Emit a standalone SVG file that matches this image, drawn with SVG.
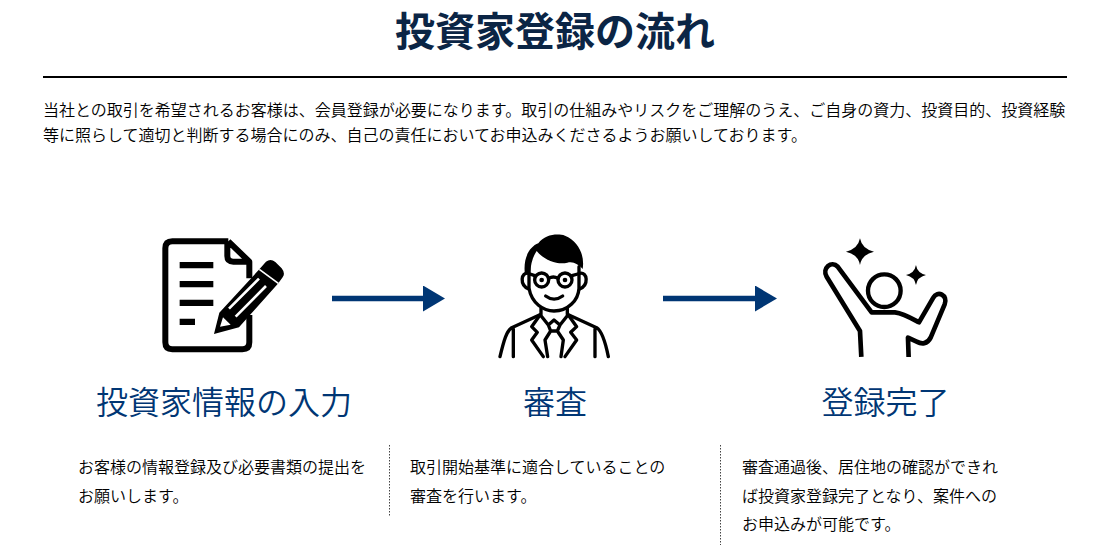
<svg xmlns="http://www.w3.org/2000/svg" width="1095" height="558" viewBox="0 0 1095 558">
<style>
text{font-family:"Noto Sans CJK JP","Noto Sans",sans-serif}
.title{font-size:40px;font-weight:700;fill:#0b2545;text-anchor:middle}
.body{font-size:16px;font-weight:350;fill:#000}
.head{font-size:32px;font-weight:350;fill:#003674;text-anchor:middle}
.desc{font-size:16px;font-weight:350;fill:#000}
.ic{fill:none;stroke:#000;stroke-linejoin:round}
.sep{stroke:#444;stroke-width:1;stroke-dasharray:1.5 1.5}
.conn{stroke:#003674;stroke-width:5.5;fill:none;marker-end:url(#ah)}
</style>
<defs>
<marker id="ah" markerUnits="userSpaceOnUse" markerWidth="22" markerHeight="26" refX="0" refY="13" orient="auto"><path d="M0 0L22 13L0 26Z" fill="#003674"/></marker>
</defs>
<rect width="1095" height="558" fill="#fff"/>
<text class="title" x="555" y="46">投資家登録の流れ</text>
<rect x="43" y="76" width="1024" height="2" fill="#000"/>
<text class="body" x="43" y="116">当社との取引を希望されるお客様は、会員登録が必要になります。取引の仕組みやリスクをご理解のうえ、ご自身の資力、投資目的、投資経験</text>
<text class="body" x="43" y="141">等に照らして適切と判断する場合にのみ、自己の責任においてお申込みくださるようお願いしております。</text>

<g id="node-input">
<g transform="translate(140 220) scale(.3333)">
<path class="ic" stroke-width="18" d="M265 64H97Q76 64 76 85V367Q76 388 97 388H307Q328 388 328 367V285M328 175V125L265 64M262 64V108Q262 125 280 125H328"/>
<path d="M119 126H220V145H119ZM119 183H220V202H119ZM119 239H220V258H119ZM119 296H165V315H119Z"/>
<path d="M222 342L238 278L358 148L378 125Q392 115 406 126L425 145Q437 160 428 172L415 190L297 322Z"/>
<path d="M358 148L415 190" stroke="#fff" stroke-width="5"/>
<path d="M267 266L357 176M287 290L378 198" stroke="#fff" stroke-width="8"/>
<path d="M240 320L249 292L272 314Z" fill="#fff"/>
</g>
<text class="head" x="224" y="414">投資家情報の入力</text>
<text class="desc" x="78" y="473">お客様の情報登録及び必要書類の提出を</text>
<text class="desc" x="78" y="502">お願いします。</text>
</g>

<g id="node-review">
<g transform="translate(480 225) scale(.3333)">
<path d="M135 150C128 100 148 65 175 55C195 28 232 25 255 32C295 48 315 90 308 132C295 118 280 108 262 113C235 120 195 108 170 78C158 95 152 120 150 145Z"/>
<g class="ic" stroke-width="10" stroke-linecap="round">
<path d="M147 115V190C155 235 190 258 222 258C265 258 295 225 297 190V125"/>
<path d="M146 145C122 140 118 180 146 192M299 145C323 140 327 180 299 192"/>
<circle cx="185" cy="165" r="21"/><circle cx="255" cy="165" r="21"/>
<path d="M206 160Q220 152 234 160M164 152L150 147M276 152L293 147"/>
<path d="M197 213Q222 232 248 213"/>
<path d="M183 250V268L95 308C80 318 72 345 60 395M262 250V268L350 308C365 318 375 345 385 395M100 312V395M345 312V395"/>
<path d="M180 270L155 305L172 322L155 345L190 395M265 270L290 305L272 322L290 345L255 395"/>
<path d="M183 272L205 300L222 285L240 300L262 272M205 300L212 318L195 345L203 395M240 300L232 318L250 345L243 395M212 318H232"/>
</g>
<circle cx="185" cy="165" r="7"/><circle cx="255" cy="165" r="7"/>
</g>
<text class="head" x="555" y="414">審査</text>
<text class="desc" x="410" y="473">取引開始基準に適合していることの</text>
<text class="desc" x="410" y="502">審査を行います。</text>
</g>

<g id="node-complete">
<g transform="translate(650 225) scale(.3333)">
<path d="M630 40Q636 72 672 80Q636 88 630 120Q624 88 588 80Q624 72 630 40ZM798 120Q802 144 828 150Q802 156 798 180Q794 156 768 150Q794 144 798 120Z"/>
<circle class="ic" cx="703" cy="197" r="49" stroke-width="13"/>
<path class="ic" stroke-width="14" d="M634 396L630 318L530 155C515 130 545 105 563 125L665 262H735C760 265 785 280 807 292L850 218C862 195 895 210 884 238L842 338C832 358 815 358 800 350L774 338L776 396"/>
</g>
<text class="head" x="885.500" y="414">登録完了</text>
<text class="desc" x="742" y="473">審査通過後、居住地の確認ができれ</text>
<text class="desc" x="742" y="502">ば投資家登録完了となり、案件への</text>
<text class="desc" x="742" y="530">お申込みが可能です。</text>
</g>

<g id="connectors">
<path class="conn" d="M332 298.500H423"/>
<path class="conn" d="M663 298.500H755"/>
<path class="sep" d="M389.500 445V517M720.500 445V545"/>
</g>
</svg>
